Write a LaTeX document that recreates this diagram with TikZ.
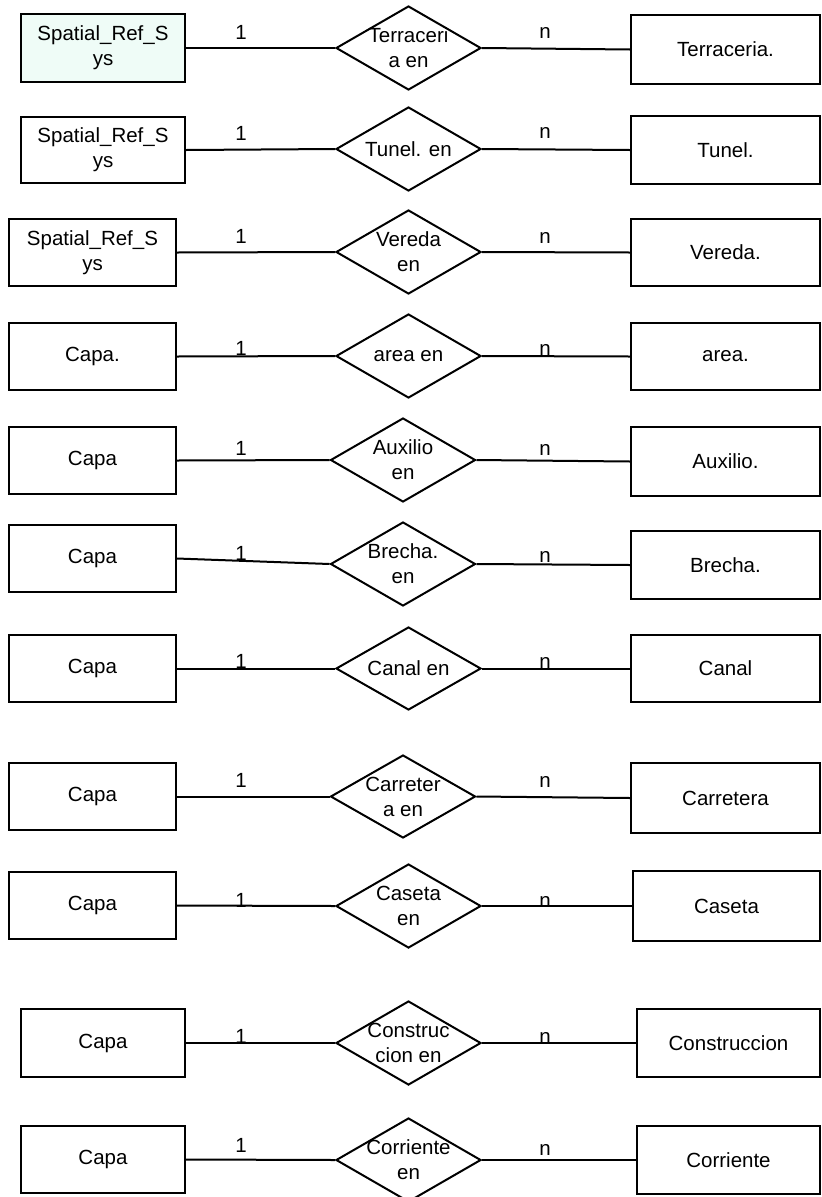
\documentclass[tikz,border=0pt]{standalone}
\usepackage{fontspec}
\setmainfont{Liberation Sans}
\usetikzlibrary{shapes.geometric}
\definecolor{mintfill}{RGB}{239,252,247}
\newcommand\erfont{\fontsize{20.5}{25}\selectfont}
\tikzset{
  ent/.style={draw, line width=2pt, rectangle, inner sep=0pt, align=center, font=\erfont},
  rel/.style={draw, line width=2pt, diamond, inner sep=0pt},
  reltext/.style={align=center, inner sep=0pt, font=\erfont},
  card/.style={anchor=base, inner sep=0pt, font=\erfont},
  conn/.style={line width=2pt},
}
\begin{document}
\begin{tikzpicture}[x=1pt, y=-1pt]
\useasboundingbox (0,0) rectangle (822,1197);

% Spatial_Ref_Sys -- Terraceria
\node[ent, fill=mintfill, minimum width=164pt, minimum height=68pt] (l1) at (103,48) {Spatial\_Ref\_S\\ys};
\node[rel, minimum width=145pt, minimum height=84pt, label={[reltext]center:{Terraceri\\a en}}] (d1) at (408.5,48) {};
\node[ent, minimum width=189pt, minimum height=69pt] (e1) at (725.5,49.5) {Terraceria.};
\draw[conn] (l1.east) -- (d1.west);
\draw[conn] (d1.east) -- (e1.west);
\node[card] (o1) at (241,39) {1};
\node[card] (n1) at (545,38) {n};

% Spatial_Ref_Sys -- Tunel
\node[ent, minimum width=164pt, minimum height=66pt] (l2) at (103,150) {Spatial\_Ref\_S\\ys};
\node[rel, minimum width=145pt, minimum height=84pt, label={[reltext]center:{Tunel. en}}] (d2) at (408.5,149) {};
\node[ent, minimum width=189pt, minimum height=68pt] (e2) at (725.5,150) {Tunel.};
\draw[conn] (l2.east) -- (d2.west);
\draw[conn] (d2.east) -- (e2.west);
\node[card] (o2) at (241,140) {1};
\node[card] (n2) at (545,138) {n};

% Spatial_Ref_Sys -- Vereda
\node[ent, minimum width=167pt, minimum height=67pt] (l3) at (92.5,252.5) {Spatial\_Ref\_S\\ys};
\node[rel, minimum width=145pt, minimum height=84pt, label={[reltext]center:{Vereda\\en}}] (d3) at (408.5,252) {};
\node[ent, minimum width=189pt, minimum height=67pt] (e3) at (725.5,252.5) {Vereda.};
\draw[conn] (l3.east) -- (d3.west);
\draw[conn] (d3.east) -- (e3.west);
\node[card] (o3) at (241,243) {1};
\node[card] (n3) at (545,243) {n};

% Capa -- area
\node[ent, minimum width=167pt, minimum height=67pt] (l4) at (92.5,356.5) {Capa.};
\node[rel, minimum width=145pt, minimum height=84pt, label={[reltext]center:{area en}}] (d4) at (408.5,356) {};
\node[ent, minimum width=189pt, minimum height=67pt] (e4) at (725.5,356.5) {area.};
\draw[conn] (l4.east) -- (d4.west);
\draw[conn] (d4.east) -- (e4.west);
\node[card] (o4) at (241,355) {1};
\node[card] (n4) at (545,355) {n};

% Capa -- Auxilio
\node[ent, minimum width=167pt, minimum height=67pt] (l5) at (92.5,460.5) {Capa};
\node[rel, minimum width=145pt, minimum height=84pt, label={[reltext]center:{Auxilio\\en}}] (d5) at (403,460) {};
\node[ent, minimum width=189pt, minimum height=69pt] (e5) at (725.5,461.5) {Auxilio.};
\draw[conn] (l5.east) -- (d5.west);
\draw[conn] (d5.east) -- (e5.west);
\node[card] (o5) at (241,455) {1};
\node[card] (n5) at (545,455) {n};

% Capa -- Brecha
\node[ent, minimum width=167pt, minimum height=67pt] (l6) at (92.5,558.5) {Capa};
\node[rel, minimum width=145pt, minimum height=84pt, label={[reltext]center:{Brecha.\\en}}] (d6) at (403,564) {};
\node[ent, minimum width=189pt, minimum height=68pt] (e6) at (725.5,565) {Brecha.};
\draw[conn] (l6.east) -- (d6.west);
\draw[conn] (d6.east) -- (e6.west);
\node[card] (o6) at (241,560) {1};
\node[card] (n6) at (545,562) {n};

% Capa -- Canal
\node[ent, minimum width=167pt, minimum height=67pt] (l7) at (92.5,668.5) {Capa};
\node[rel, minimum width=145pt, minimum height=83pt, label={[reltext]center:{Canal en}}] (d7) at (408.5,668.5) {};
\node[ent, minimum width=189pt, minimum height=67pt] (e7) at (725.5,668.5) {Canal};
\draw[conn] (l7.east) -- (d7.west);
\draw[conn] (d7.east) -- (e7.west);
\node[card] (o7) at (241,668) {1};
\node[card] (n7) at (545,668) {n};

% Capa -- Carretera
\node[ent, minimum width=167pt, minimum height=67pt] (l8) at (92.5,796.5) {Capa};
\node[rel, minimum width=145pt, minimum height=83pt, label={[reltext]center:{Carreter\\a en}}] (d8) at (403,796.5) {};
\node[ent, minimum width=189pt, minimum height=70pt] (e8) at (725.5,798) {Carretera};
\draw[conn] (l8.east) -- (d8.west);
\draw[conn] (d8.east) -- (e8.west);
\node[card] (o8) at (241,787) {1};
\node[card] (n8) at (545,787) {n};

% Capa -- Caseta
\node[ent, minimum width=167pt, minimum height=67pt] (l9) at (92.5,905.5) {Capa};
\node[rel, minimum width=145pt, minimum height=84pt, label={[reltext]center:{Caseta\\en}}] (d9) at (408.5,906) {};
\node[ent, minimum width=187pt, minimum height=70pt] (e9) at (726.5,906) {Caseta};
\draw[conn] (l9.east) -- (d9.west);
\draw[conn] (d9.east) -- (e9.west);
\node[card] (o9) at (241,907) {1};
\node[card] (n9) at (545,907) {n};

% Capa -- Construccion
\node[ent, minimum width=164pt, minimum height=68pt] (l10) at (103,1043) {Capa};
\node[rel, minimum width=145pt, minimum height=84pt, label={[reltext]center:{Construc\\cion en}}] (d10) at (408.5,1043) {};
\node[ent, minimum width=183pt, minimum height=68pt] (e10) at (728.5,1043) {Construccion};
\draw[conn] (l10.east) -- (d10.west);
\draw[conn] (d10.east) -- (e10.west);
\node[card] (o10) at (241,1043) {1};
\node[card] (n10) at (545,1043) {n};

% Capa -- Corriente
\node[ent, minimum width=164pt, minimum height=67pt] (l11) at (103,1159.5) {Capa};
\node[rel, minimum width=145pt, minimum height=84pt, label={[reltext]center:{Corriente\\en}}] (d11) at (408.5,1160) {};
\node[ent, minimum width=183pt, minimum height=68pt] (e11) at (728.5,1160) {Corriente};
\draw[conn] (l11.east) -- (d11.west);
\draw[conn] (d11.east) -- (e11.west);
\node[card] (o11) at (241,1152) {1};
\node[card] (n11) at (545,1155) {n};
\end{tikzpicture}
\end{document}
